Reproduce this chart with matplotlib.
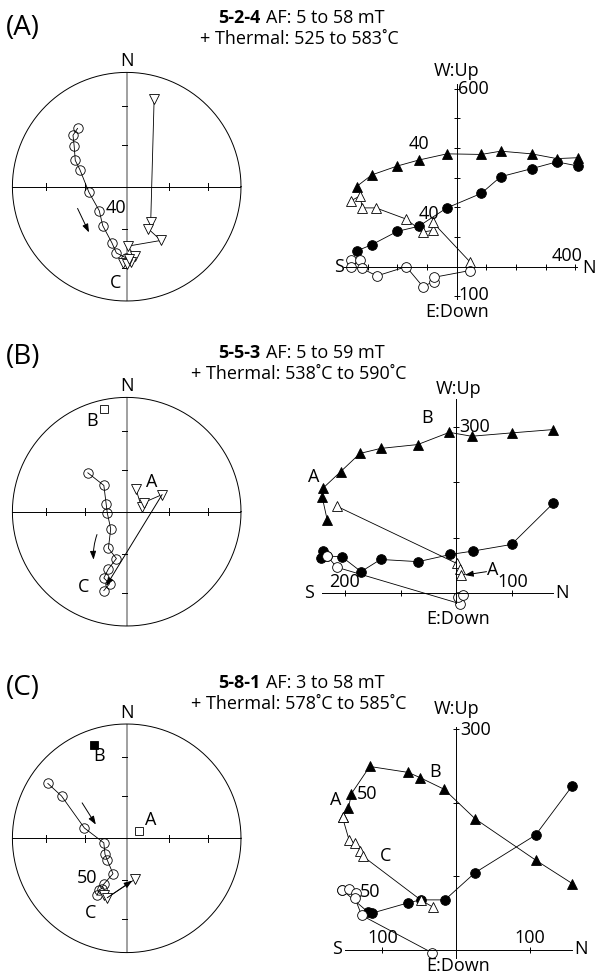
"""Stepwise demagnetisation: equal-area nets + orthogonal vector plots, 3 samples."""
import matplotlib
matplotlib.use("Agg")
import matplotlib.pyplot as plt
import numpy as np

plt.rcParams["font.family"] = ["Open Sans", "DejaVu Sans"]

W, H = 596, 976
FS = 13

# ---- equal-area nets: projected (east, north) positions, unit radius ----
# (A) 5-2-4
a_circ_e = [-0.43, -0.47, -0.46, -0.45, -0.41, -0.33, -0.24, -0.21, -0.13, -0.09, -0.01]
a_circ_n = [0.51, 0.45, 0.36, 0.23, 0.15, -0.05, -0.21, -0.34, -0.49, -0.58, -0.62]
a_tri_e = [0.24, 0.21, 0.19, 0.30, 0.01, 0.07, 0.04, -0.03, 0.00, 0.02]
a_tri_n = [0.77, -0.31, -0.37, -0.47, -0.52, -0.61, -0.66, -0.67, -0.68, -0.63]
# (B) 5-5-3
b_circ_e = [-0.34, -0.20, -0.18, -0.17, -0.14, -0.16, -0.09, -0.16, -0.20, -0.15, -0.20]
b_circ_n = [0.34, 0.23, 0.07, -0.01, -0.15, -0.32, -0.41, -0.50, -0.58, -0.63, -0.69]
b_tri_e = [0.08, 0.13, 0.15, 0.31]
b_tri_n = [0.20, 0.04, 0.08, 0.15]
b_tri_end = (-0.18, -0.65)
b_sq_open = (-0.20, 0.90)
# (C) 5-8-1
c_circ_e = [-0.69, -0.57, -0.37, -0.20, -0.19, -0.17, -0.12, -0.20, -0.22, -0.24, -0.26]
c_circ_n = [0.48, 0.37, 0.09, -0.04, -0.14, -0.19, -0.31, -0.40, -0.44, -0.45, -0.50]
c_tri_e = [-0.20, -0.17, 0.07]
c_tri_n = [-0.50, -0.52, -0.36]
c_sq_open = (0.11, 0.06)
c_sq_fill = (-0.29, 0.82)

# ---- orthogonal vector plots (x = N, y = W:Up / E:Down) ----
# (A)
za_ftri_x = [409, 337, 252, 148, 83, -33, -128, -200, -286, -337]
za_ftri_y = [367, 364, 380, 389, 378, 380, 359, 339, 309, 270]
za_fcir_x = [409, 337, 252, 148, 83, -33, -128, -200, -286, -337]
za_fcir_y = [339, 353, 330, 303, 247, 198, 136, 119, 74, 53]
za_otri_x = [-356, -324, -319, -272, -172, -113, -81, -81, 44]
za_otri_y = [222, 239, 198, 198, 161, 117, 122, 150, 17]
za_ocir_x = [-356, -324, -356, -319, -269, -170, -114, -78, -78, 44]
za_ocir_y = [24, 24, 0, -6, -31, 0, -67, -50, -36, -13]
# (B)
zb_ftri_x = [175, 100, 28, -12, -69, -136, -173, -208, -239, -241, -232]
zb_ftri_y = [295, 289, 283, 290, 268, 261, 252, 219, 190, 173, 132]
zb_fcir_x = [175, 100, 30, -10, -68, -136, -171, -206, -232, -239, -244]
zb_fcir_y = [162, 88, 76, 70, 57, 61, 39, 66, 67, 77, 63]
zb_otri_x = [-215, 1, 7, 9]
zb_otri_y = [157, 54, 43, 33]
zb_ocir_x = [-232, -215, 8, 4, 12]
zb_ocir_y = [67, 47, -19, -7, -3]
# (C)
zc_ftri_x = [158, 108, 26, -16, -49, -65, -117, -142, -146, -154]
zc_ftri_y = [90, 122, 178, 218, 234, 241, 249, 212, 192, 180]
zc_fcir_x = [158, 108, 26, -15, -48, -65, -114, -120, -155]
zc_fcir_y = [223, 156, 105, 68, 68, 64, 50, 52, 82]
zc_otri_x = [-154, -145, -137, -130, -126, -48, -31]
zc_otri_y = [180, 149, 145, 135, 127, 68, 58]
zc_ocir_x = [-155, -145, -136, -137, -128, -32]
zc_ocir_y = [82, 83, 77, 70, 47, -4]

fig = plt.figure(figsize=(W / 100, H / 100), dpi=100)


def px_axes(left, top, width, height, z=1):
    ax = fig.add_axes([left / W, 1 - (top + height) / H, width / W, height / H])
    ax.set_zorder(z)
    ax.patch.set_visible(False)
    return ax


# overlay for panel letters and titles (pixel coords)
txt = px_axes(0, 0, W, H, z=0)
txt.set_xlim(0, W)
txt.set_ylim(H, 0)
txt.axis("off")

TITLES = [("(A)", 28, 18, "5-2-4", "AF: 5 to 58 mT", "+ Thermal: 525 to 583˚C"),
          ("(B)", 357, 353, "5-5-3", "AF: 5 to 59 mT", "+ Thermal: 538˚C to 590˚C"),
          ("(C)", 688, 683, "5-8-1", "AF: 3 to 58 mT", "+ Thermal: 578˚C to 585˚C")]
for lab, y, ty, name, af, th in TITLES:
    txt.text(6, y, lab, fontsize=20, ha="left", va="center")
    b = txt.text(218, ty, name, fontsize=FS, fontweight="bold", ha="left", va="center")
    txt.annotate(af, xy=(1, 0.5), xycoords=b, xytext=(4, 0), textcoords="offset points",
                 fontsize=FS, ha="left", va="center")
    txt.text(299, ty + 21, th, fontsize=FS, ha="center", va="center")

R = 114.3
T30 = np.sqrt(2) * np.sin(np.radians(30))
T60 = np.sqrt(2) * np.sin(np.radians(15))


def net(cy, cx=126.7):
    ax = px_axes(cx - R, cy - R, 2 * R, 2 * R)
    ax.set_xlim(-1, 1)
    ax.set_ylim(-1, 1)
    ax.axis("off")
    th = np.linspace(0, 2 * np.pi, 361)
    ax.plot(np.cos(th), np.sin(th), color="k", lw=0.7, clip_on=False)
    ax.plot([-1, 1], [0, 0], color="k", lw=0.7)
    ax.plot([0, 0], [-1, 1], color="#999999", lw=1.3, zorder=1)
    for t in (-T30, -T60, T60, T30):
        ax.plot([t, t], [-0.03, 0.03], color="k", lw=0.7)
        ax.plot([-0.04, 0.0], [t, t], color="k", lw=0.7)
    ax.text(0, 1.1, "N", fontsize=FS, ha="center", va="center")
    return ax


def ocirc(ax, x, y, ms=6.8):
    ax.plot(x, y, "-", color="k", lw=0.6, marker="o", ms=ms, mfc="none",
            mec="k", mew=0.6, clip_on=False)


def otri(ax, x, y, mk="v", ms=6.8):
    ax.plot(x, y, "-", color="k", lw=0.6, marker=mk, ms=ms, mfc="white",
            mec="k", mew=0.6, clip_on=False)


def arrow(ax, start, end, rad=0.0):
    ax.annotate("", xy=end, xytext=start,
                arrowprops=dict(arrowstyle="-|>,head_length=0.5,head_width=0.18",
                                color="k", lw=0.7, shrinkA=0, shrinkB=0,
                                connectionstyle=f"arc3,rad={rad}"))


# ---- nets ----
ax = net(186.7)
ocirc(ax, a_circ_e, a_circ_n)
otri(ax, a_tri_e, a_tri_n)
arrow(ax, (-0.43, -0.19), (-0.33, -0.40))
ax.text(-0.09, -0.19, "40", fontsize=FS, ha="center", va="center")
ax.text(-0.10, -0.84, "C", fontsize=FS, ha="center", va="center")

ax = net(511.7)
ocirc(ax, b_circ_e, b_circ_n)
otri(ax, b_tri_e, b_tri_n)
arrow(ax, (b_tri_e[-1], b_tri_n[-1]), b_tri_end)
ax.plot(*b_sq_open, "s", ms=6, mfc="white", mec="k", mew=0.6)
arrow(ax, (-0.26, -0.20), (-0.29, -0.42), rad=0.1)
ax.text(-0.30, 0.79, "B", fontsize=FS, ha="center", va="center")
ax.text(0.22, 0.26, "A", fontsize=FS, ha="center", va="center")
ax.text(-0.38, -0.66, "C", fontsize=FS, ha="center", va="center")

ax = net(838.3)
ocirc(ax, c_circ_e, c_circ_n)
otri(ax, c_tri_e, c_tri_n)
arrow(ax, (c_tri_e[-2], c_tri_n[-2]), (c_tri_e[-1] - 0.02, c_tri_n[-1] - 0.01))
ax.plot(*c_sq_open, "s", ms=6, mfc="white", mec="k", mew=0.6)
ax.plot(*c_sq_fill, "s", ms=6, mfc="k", mec="k", mew=0.6)
arrow(ax, (-0.39, 0.31), (-0.27, 0.12))
ax.text(-0.24, 0.72, "B", fontsize=FS, ha="center", va="center")
ax.text(0.21, 0.16, "A", fontsize=FS, ha="center", va="center")
ax.text(-0.32, -0.65, "C", fontsize=FS, ha="center", va="center")
ax.text(-0.35, -0.35, "50", fontsize=FS, ha="center", va="center")


# ---- orthogonal plots ----
def zij(ox, oy, s, xlim, ylim):
    l = ox + xlim[0] * s
    t = oy - ylim[1] * s
    ax = px_axes(l, t, (xlim[1] - xlim[0]) * s, (ylim[1] - ylim[0]) * s)
    ax.set_xlim(*xlim)
    ax.set_ylim(*ylim)
    for sp in ("top", "right"):
        ax.spines[sp].set_visible(False)
    ax.spines["left"].set_position(("data", 0))
    ax.spines["bottom"].set_position(("data", 0))
    for sp in ("left", "bottom"):
        ax.spines[sp].set_linewidth(0.7)
    xt = [v for v in range(-400, 500, 100) if v != 0 and xlim[0] < v < xlim[1]]
    yt = [v for v in range(-400, 700, 100) if v != 0 and ylim[0] < v < ylim[1]]
    ax.set_xticks(xt)
    ax.set_yticks(yt)
    ax.tick_params(direction="inout", length=5, width=0.7,
                   labelbottom=False, labelleft=False)
    return ax


def zplot(ax, ftx, fty, fcx, fcy, otx, oty, ocx, ocy):
    kw = dict(color="k", lw=0.6, ms=7, mew=0.6, clip_on=False)
    ax.plot(ftx, fty, "-^", mfc="k", mec="k", **kw)
    ax.plot(fcx, fcy, "-o", mfc="k", mec="k", **kw)
    ax.plot(otx, oty, "-^", mfc="white", mec="k", **kw)
    ax.plot(ocx, ocy, "-o", mfc="white", mec="k", **kw)


def lab(ax, x, y, s, ha="center"):
    ax.text(x, y, s, fontsize=FS, ha=ha, va="center", clip_on=False)


ax = zij(456.7, 266.7, 0.297, (-378, 405), (-110, 615))
zplot(ax, za_ftri_x, za_ftri_y, za_fcir_x, za_fcir_y,
      za_otri_x, za_otri_y, za_ocir_x, za_ocir_y)
lab(ax, 0, 658, "W:Up")
lab(ax, 5, 597, "600", "left")
lab(ax, -396, 0, "S")
lab(ax, 370, 36, "400")
lab(ax, 445, -3, "N")
lab(ax, 5, -94, "100", "left")
lab(ax, 3, -152, "E:Down")
lab(ax, -128, 413, "40")
lab(ax, -92, 178, "40")

ax = zij(456, 593.3, 0.555, (-242, 175), (-18, 350))
zplot(ax, zb_ftri_x, zb_ftri_y, zb_fcir_x, zb_fcir_y,
      zb_otri_x, zb_otri_y, zb_ocir_x, zb_ocir_y)
arrow(ax, (55, 39), (16, 33))
lab(ax, 4, 368, "W:Up")
lab(ax, 6, 300, "300", "left")
lab(ax, -200, 21, "200")
lab(ax, 102, 21, "100")
lab(ax, -265, 0, "S")
lab(ax, 191, 0, "N")
lab(ax, 4, -46, "E:Down")
lab(ax, -53, 316, "B")
lab(ax, -257, 210, "A")
lab(ax, 67, 42, "A")

ax = zij(456, 950, 0.737, (-151, 157), (-11, 302))
zplot(ax, zc_ftri_x, zc_ftri_y, zc_fcir_x, zc_fcir_y,
      zc_otri_x, zc_otri_y, zc_ocir_x, zc_ocir_y)
lab(ax, 1, 327, "W:Up")
lab(ax, 6, 298, "300", "left")
lab(ax, -162, 1, "S")
lab(ax, 170, 1, "N")
lab(ax, -100, 16, "100")
lab(ax, 100, 16, "100")
lab(ax, 3, -22, "E:Down")
lab(ax, -163, 203, "A")
lab(ax, -121, 212, "50")
lab(ax, -29, 242, "B")
lab(ax, -95, 127, "C")
lab(ax, -117, 79, "50")

fig.savefig("out.png", dpi=100)
